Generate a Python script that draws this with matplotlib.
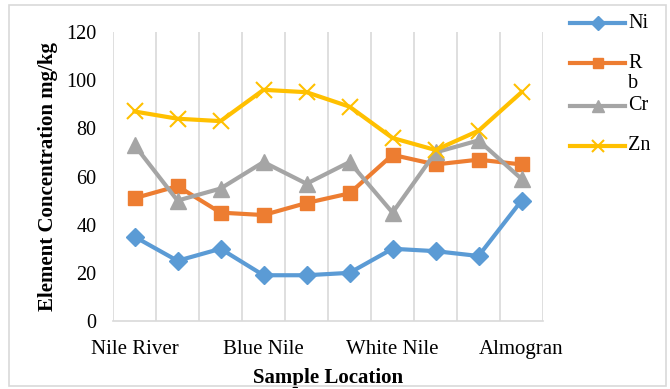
import matplotlib.pyplot as plt
from matplotlib.lines import Line2D
from matplotlib.patches import Rectangle

plt.rcParams['font.family'] = ['Liberation Serif', 'DejaVu Serif']

locations = ['Nile River', '', '', 'Blue Nile', '', '', 'White Nile', '', '', 'Almogran']
ni = [35, 25, 30, 19, 19, 20, 30, 29, 27, 50]
rb = [51, 56, 45, 44, 49, 53, 69, 65, 67, 65]
cr = [73, 50, 55, 66, 57, 66, 45, 70, 75, 59]
zn = [87, 84, 83, 96, 95, 89, 76, 71, 79, 95]
yticks = [0, 20, 40, 60, 80, 100, 120]

series = [
    ('Ni', ni, '#5B9BD5', 'D', 9.5),
    ('R\nb', rb, '#ED7D31', 's', 10.5),
    ('Cr', cr, '#A5A5A5', '^', 11),
    ('Zn', zn, '#FFC000', 'x', 11),
]

fig = plt.figure(figsize=(6.7, 3.89), dpi=100)
ax = fig.add_axes([0.1687, 0.1748, 0.6418, 0.7429])

x = list(range(len(locations)))
for name, vals, col, mk, ms in series:
    ax.plot(x, vals, color=col, lw=3, marker=mk, markersize=ms,
            markeredgewidth=1.5 if mk == 'x' else 1, zorder=3)

ax.set_xlim(-0.5, len(locations) - 0.5)
ax.set_ylim(0, 120)
ax.set_yticks(yticks)
ax.set_xticks(x)
ax.set_xticklabels(locations, fontsize=15)
ax.tick_params(axis='y', labelsize=14.5, length=0, pad=12)
ax.tick_params(axis='x', length=0, pad=14)

for b in [i - 0.5 for i in range(len(locations) + 1)]:
    ax.axvline(b, color='#D9D9D9', lw=1.2, zorder=1)
for s in ['top', 'right', 'left']:
    ax.spines[s].set_visible(False)
ax.spines['bottom'].set_color('#D9D9D9')
ax.spines['bottom'].set_linewidth(1.2)

ax.set_xlabel('Sample Location', fontsize=15, fontweight='bold', labelpad=6)
ax.set_ylabel('Element Concentration mg/kg', fontsize=15, fontweight='bold', labelpad=6)

# legend drawn by hand so the wrapped "Rb" label sits like the original
W, H = 670, 389
leg_y = [23, 63, 106, 146]
for (name, vals, col, mk, ms), yy in zip(series, leg_y):
    fy = 1 - yy / H
    fig.add_artist(Line2D([570 / W, 625 / W], [fy, fy], color=col, lw=3))
    fig.add_artist(Line2D([597.5 / W], [fy], color=col, marker=mk,
                          markersize=ms * 0.75, markeredgewidth=1.5 if mk == 'x' else 1))
    lines = name.split('\n')
    for k, t in enumerate(lines):
        fig.text(628 / W, 1 - (yy + 21 * k) / H, t, fontsize=14.5, va='center', ha='left')

fig.add_artist(Rectangle((9 / W, 3 / H), 657 / W, 381 / H, transform=fig.transFigure,
                         fill=False, edgecolor='#D9D9D9', lw=1.2))

fig.savefig('out.png', dpi=100)
